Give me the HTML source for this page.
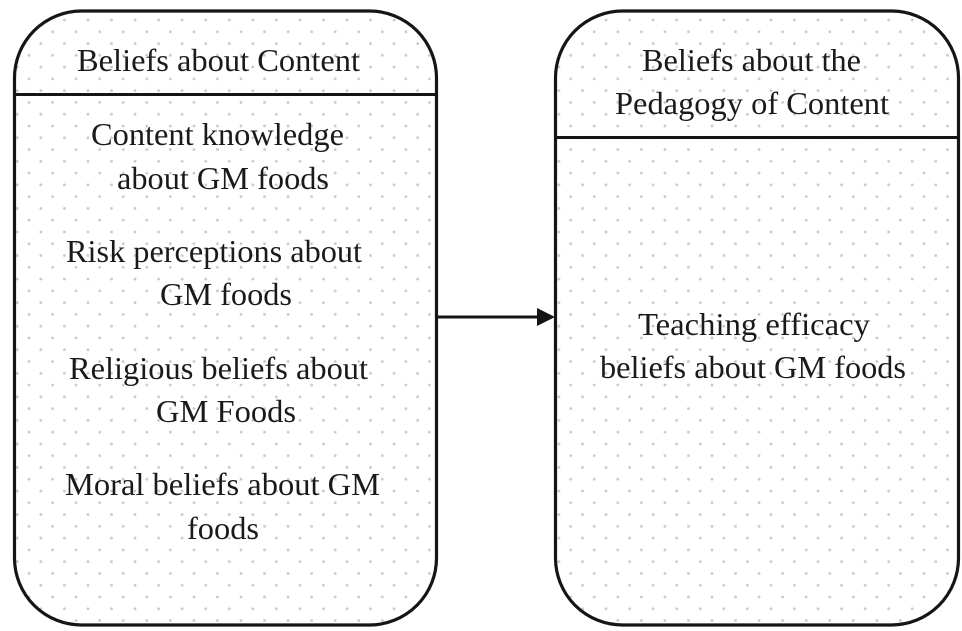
<!DOCTYPE html>
<html><head><meta charset="utf-8"><style>
html,body{margin:0;padding:0;background:#fff;width:962px;height:631px;overflow:hidden}
svg{display:block}
text{font-family:"Liberation Serif",serif;font-size:31.5px;fill:#1a1a1a}
</style></head><body>
<svg width="962" height="631" viewBox="0 0 962 631" xmlns="http://www.w3.org/2000/svg">
<defs>
<pattern id="d" patternUnits="userSpaceOnUse" width="23.55" height="23.55" x="5.5" y="8.2">
<circle cx="11.8" cy="11.8" r="1.4" fill="#c9c9c9"/>
<circle cx="23.55" cy="23.55" r="1.4" fill="#c9c9c9"/>
<circle cx="0" cy="0" r="1.4" fill="#c9c9c9"/>
<circle cx="23.55" cy="0" r="1.4" fill="#c9c9c9"/>
<circle cx="0" cy="23.55" r="1.4" fill="#c9c9c9"/>
</pattern>
</defs>
<rect x="14.5" y="11" width="422" height="614" rx="67" ry="67" fill="url(#d)" stroke="#151515" stroke-width="3.2"/>
<rect x="555.5" y="11" width="403" height="614" rx="67" ry="67" fill="url(#d)" stroke="#151515" stroke-width="3.2"/>
<line x1="14" y1="94.5" x2="437" y2="94.5" stroke="#151515" stroke-width="3"/>
<line x1="555" y1="137.5" x2="959" y2="137.5" stroke="#151515" stroke-width="3"/>
<line x1="437" y1="317" x2="538" y2="317" stroke="#151515" stroke-width="3"/>
<polygon points="537,308 555,317 537,326" fill="#151515"/>
<text x="77" y="71" textLength="283" lengthAdjust="spacingAndGlyphs">Beliefs about Content</text>
<text x="91" y="145" textLength="253" lengthAdjust="spacingAndGlyphs">Content knowledge</text>
<text x="117" y="189" textLength="212" lengthAdjust="spacingAndGlyphs">about GM foods</text>
<text x="66" y="262" textLength="296" lengthAdjust="spacingAndGlyphs">Risk perceptions about</text>
<text x="160" y="305" textLength="132" lengthAdjust="spacingAndGlyphs">GM foods</text>
<text x="69" y="379" textLength="299" lengthAdjust="spacingAndGlyphs">Religious beliefs about</text>
<text x="156" y="422" textLength="140" lengthAdjust="spacingAndGlyphs">GM Foods</text>
<text x="65" y="495" textLength="315" lengthAdjust="spacingAndGlyphs">Moral beliefs about GM</text>
<text x="187" y="539" textLength="72" lengthAdjust="spacingAndGlyphs">foods</text>
<text x="642" y="71" textLength="219" lengthAdjust="spacingAndGlyphs">Beliefs about the</text>
<text x="615" y="114" textLength="274" lengthAdjust="spacingAndGlyphs">Pedagogy of Content</text>
<text x="638" y="335" textLength="232" lengthAdjust="spacingAndGlyphs">Teaching efficacy</text>
<text x="600" y="378" textLength="306" lengthAdjust="spacingAndGlyphs">beliefs about GM foods</text>
</svg>
</body></html>
